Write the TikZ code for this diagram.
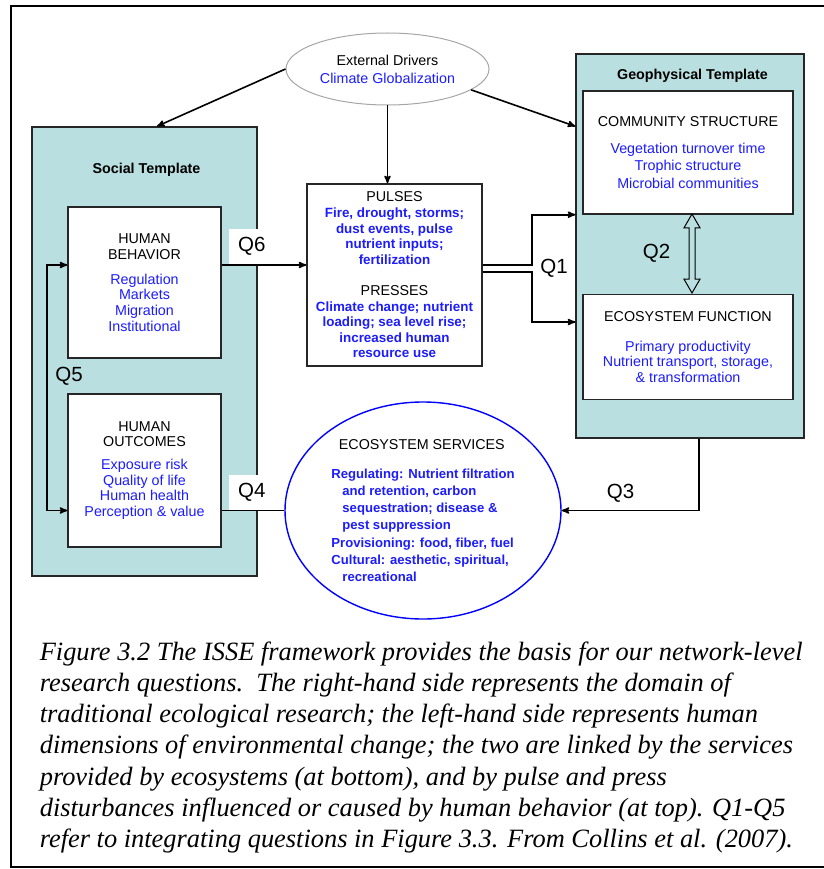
\documentclass[tikz,border=0pt]{standalone}
\usepackage{fontspec}
\setmainfont{Liberation Sans}
\newfontfamily\capfont{Liberation Serif}
\usetikzlibrary{shapes,arrows,positioning}
\definecolor{tmplfill}{RGB}{185,223,224}
\definecolor{itemblue}{RGB}{28,28,255}
\newcommand\hd[1]{{\color{black}#1}}

\begin{document}
\begin{tikzpicture}[x=1pt,y=-1pt,->,>=stealth',line width=1.6pt,font=\fontsize{14.3}{15.7}\selectfont]
\tikzstyle{template}=[draw=black!85,line width=1.4pt,fill=tmplfill,inner sep=0pt]
\tikzstyle{whitebox}=[draw=black!85,line width=1.4pt,fill=white,align=center,inner sep=0pt,text=itemblue]
\tikzstyle{qlabel}=[font=\fontsize{20.5}{22}\selectfont,inner sep=0pt]
\tikzstyle{qpatch}=[qlabel,fill=white,minimum width=46pt,minimum height=35pt,anchor=south west]
\tikzstyle{titletext}=[font=\fontsize{14.3}{16}\selectfont\bfseries,inner sep=0pt]
\useasboundingbox (0,0) rectangle (823,869);
\draw[-,line width=2pt] (11,6) rectangle (828,867);
% templates
\node[template,minimum width=225pt,minimum height=449pt] (st) at (144.5,351.5) {};
\node[template,minimum width=228pt,minimum height=384pt] (geo) at (690,246) {};
\node[titletext] (sttitle) at (146.5,170) {Social Template};
\node[titletext] (geotitle) at (692.5,76) {Geophysical Template};
% boxes
\node[ellipse,draw=gray!70,line width=1pt,fill=white,minimum width=203pt,minimum height=72pt,inner sep=0pt,align=center,text=itemblue,font=\fontsize{14.3}{18}\selectfont] (ed) at (387.5,69) {\hd{External Drivers}\\Climate Globalization};
\node[whitebox,minimum width=153pt,minimum height=151pt] (hb) at (144.5,282.5) {\hd{HUMAN}\\\hd{BEHAVIOR}\\[9pt]Regulation\\Markets\\Migration\\Institutional};
\node[whitebox,minimum width=153pt,minimum height=153pt] (ho) at (144.5,470.5) {\hd{HUMAN}\\\hd{OUTCOMES}\\[7pt]Exposure risk\\Quality of life\\Human health\\Perception \& value};
\node[whitebox,minimum width=175pt,minimum height=182pt,font=\fontsize{13.4}{15.6}\selectfont\bfseries] (pu) at (394.5,275) {\hd{\mdseries\fontsize{14.3}{15.6}\selectfont PULSES}\\Fire, drought, storms;\\dust events, pulse\\nutrient inputs;\\fertilization\\[15.6pt]\hd{\mdseries\fontsize{14.3}{15.6}\selectfont PRESSES}\\Climate change; nutrient\\loading; sea level rise;\\increased human\\resource use};
\node[whitebox,minimum width=210pt,minimum height=123pt,font=\fontsize{14.3}{17.5}\selectfont] (cs) at (688,152.5) {\hd{COMMUNITY STRUCTURE}\\[9.5pt]Vegetation turnover time\\Trophic structure\\Microbial communities};
\node[whitebox,minimum width=210pt,minimum height=105pt,font=\fontsize{14.3}{15.5}\selectfont] (ef) at (688,347) {\hd{ECOSYSTEM FUNCTION}\\[14.5pt]Primary productivity\\Nutrient transport, storage,\\\& transformation};
\node[ellipse,draw=blue,line width=1.4pt,fill=white,minimum width=276pt,minimum height=217pt,inner sep=0pt,align=left,text=itemblue,font=\fontsize{13.1}{17.3}\selectfont\bfseries] (es) at (423,510.5) {\hspace*{7.5pt}\hd{\mdseries\fontsize{14.3}{17.3}\selectfont ECOSYSTEM SERVICES}\\[11.7pt]Regulating: Nutrient filtration\\\hspace*{11pt}and retention, carbon\\\hspace*{11pt}sequestration; disease \&\\\hspace*{11pt}pest suppression\\Provisioning: food, fiber, fuel\\Cultural: aesthetic, spiritual,\\\hspace*{11pt}recreational};
\node[qpatch] (q6) at (228,265) {Q6};
\node[qpatch] (q4) at (228,510.5) {Q4};
% connectors
\coordinate (rowA) at (0,265);
\coordinate (rowB) at (0,272);
\coordinate (rowC) at (0,322);
\coordinate (rowD) at (0,510.5);
\coordinate (q1bar) at (532,0);
\coordinate (q5bar) at (47,0);
\draw (ed.west) -- ([xshift=12.5pt]st.north);
\draw (ed.south) -- (ed.south |- pu.north);
\draw (ed.-14) -- ([yshift=-73pt]geo.north west);
\draw (hb.east |- rowA) -- (pu.west |- rowA);
\draw[<->] (hb.west |- rowA) -- (q5bar |- rowA) -- (q5bar |- rowD) -- (ho.west |- rowD);
\draw (pu.east |- rowA) -- (q1bar |- rowA) -- (q1bar |- cs.south) -- (geo.west |- cs.south);
\draw (pu.east |- rowB) -- (q1bar |- rowB) -- (q1bar |- rowC) -- (geo.west |- rowC);
\draw ([xshift=9pt]geo.south) |- (es.east);
\draw[-] (ho.east |- rowD) -- (es.west);
\node[double arrow,draw=black,line width=1pt,rotate=90,minimum height=79pt,double arrow head extend=5pt,double arrow tip angle=60,inner sep=2.5pt] (q2arrow) at (692,253.5) {};
% question labels
\node[qlabel] (q5) at (69,376) {Q5};
\node[qlabel] (q2) at (656.5,253.5) {Q2};
\node[qlabel] (q1) at (554,268.5) {Q1};
\node[qlabel] (q3) at (620.5,493) {Q3};
% caption
\node[anchor=north west,align=left,inner sep=0pt,font=\capfont\itshape\fontsize{26.4}{31.2}\selectfont] (caption) at (39,641) {Figure 3.2 The ISSE framework provides the basis for our network-level\\research questions.\ \ The right-hand side represents the domain of\\traditional ecological research; the left-hand side represents human\\dimensions of environmental change; the two are linked by the services\\provided by ecosystems (at bottom), and by pulse and press\\disturbances influenced or caused by human behavior (at top). Q1-Q5\\refer to integrating questions in Figure 3.3. From Collins et al. (2007).};
\end{tikzpicture}
\end{document}
